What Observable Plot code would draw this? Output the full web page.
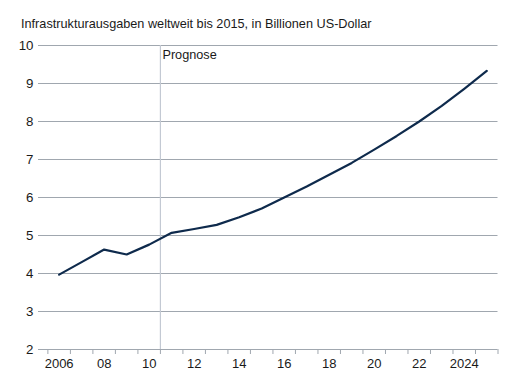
<!DOCTYPE html>
<html>
<head>
<meta charset="utf-8">
<script src="https://cdn.jsdelivr.net/npm/d3@7"></script>
<script src="https://cdn.jsdelivr.net/npm/@observablehq/plot@0.6"></script>
<style>
  html, body { margin: 0; padding: 0; background: #fff; }
  body { width: 518px; height: 385px; overflow: hidden; font-family: "Liberation Sans", Arial, sans-serif; }
  #title { height: 19px; padding-top: 17px; padding-left: 21px; font-size: 12.7px; line-height: 14px; color: #1a1a1a; white-space: nowrap; }
  #chart svg { display: block; }
</style>
</head>
<body>
<div id="title">Infrastrukturausgaben weltweit bis 2015, in Billionen US-Dollar</div>
<div id="chart"></div>
<script>
const titleText = "Infrastrukturausgaben weltweit bis 2015, in Billionen US-Dollar";
const years = [2006, 2007, 2008, 2009, 2010, 2011, 2012, 2013, 2014, 2015,
               2016, 2017, 2018, 2019, 2020, 2021, 2022, 2023, 2024, 2025];
const values = [3.97, 4.30, 4.63, 4.50, 4.76, 5.07, 5.17, 5.28, 5.48, 5.71,
                6.00, 6.29, 6.60, 6.91, 7.26, 7.62, 8.00, 8.41, 8.86, 9.33];
const xTickYears = [2006, 2008, 2010, 2012, 2014, 2016, 2018, 2020, 2022, 2024];
const xTickLabels = ["2006", "08", "10", "12", "14", "16", "18", "20", "22", "2024"];
const yTicks = [2, 3, 4, 5, 6, 7, 8, 9, 10];
const forecastStart = 2010.5;
const forecastLabel = "Prognose";

document.getElementById("title").textContent = titleText;

const data = years.map((year, i) => ({year, value: values[i]}));
const boundaries = years.map(y => y - 0.5).concat([years[years.length - 1] + 0.5]);
const labelMap = new Map(xTickYears.map((y, i) => [y, xTickLabels[i]]));

const gridColor = "#a0a7af";
const textColor = "#1a1a1a";

const chart = Plot.plot({
  width: 518,
  height: 349,
  marginLeft: 38,
  marginRight: 20.5,
  marginTop: 9,
  marginBottom: 36,
  style: {fontFamily: '"Liberation Sans", Arial, sans-serif', color: textColor, background: "#fff"},
  x: {type: "linear", domain: [2005.083, 2025.5]},
  y: {domain: [2, 10]},
  marks: [
    Plot.gridY(yTicks, {stroke: gridColor, strokeOpacity: 1, strokeWidth: 1}),
    Plot.ruleX([forecastStart], {stroke: "#c3c9d3", strokeWidth: 1.2}),
    Plot.text([forecastLabel], {x: forecastStart, y: 10, text: d => d, textAnchor: "start", lineAnchor: "top", dx: 2, dy: 4, fontSize: 12.7, fill: textColor}),
    Plot.axisY(yTicks, {tickSize: 0, tickPadding: 5, fontSize: 13.3, tickFormat: d => String(d), fill: textColor, label: null}),
    Plot.axisX(boundaries, {tickSize: 5, stroke: gridColor, strokeOpacity: 1, tickFormat: () => "", label: null}),
    Plot.axisX(xTickYears, {tickSize: 0, tickPadding: 9, fontSize: 13, tickFormat: d => labelMap.get(d), fill: textColor, label: null}),
    Plot.line(data, {x: "year", y: "value", stroke: "#0e2a4c", strokeWidth: 2.2, curve: "linear"})
  ]
});
document.getElementById("chart").appendChild(chart);
</script>
</body>
</html>
